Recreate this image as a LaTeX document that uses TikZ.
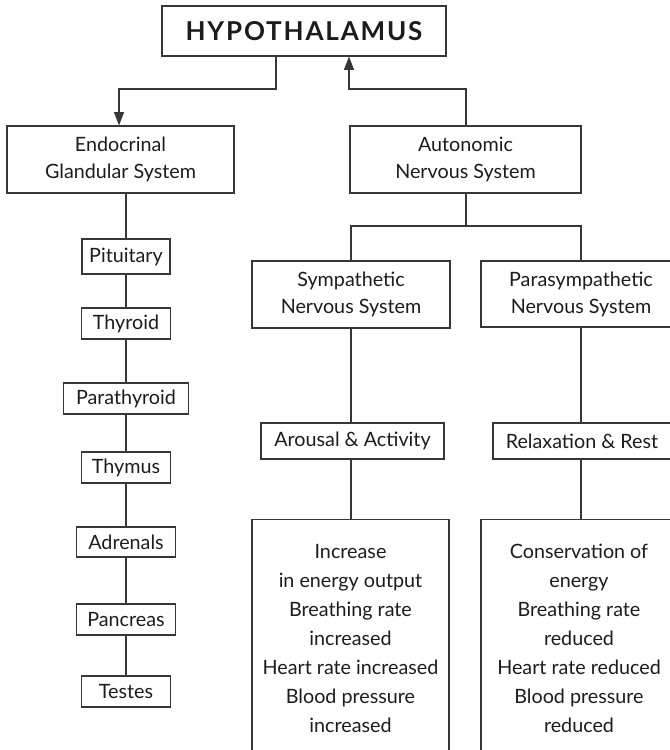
\documentclass[tikz,border=0pt]{standalone}
\usepackage{fontspec}
\setmainfont{Lato}
\usetikzlibrary{arrows.meta,calc}
\definecolor{ink}{RGB}{30,27,28}
\definecolor{ln}{RGB}{55,55,55}
\newcommand\fsz[2]{\fontsize{#1}{#2}\selectfont}
\begin{document}
\begin{tikzpicture}[x=0.75pt,y=-0.75pt,
  wh/.style 2 args={minimum width=#1*0.75pt, minimum height=#2*0.75pt},
  box/.style={draw=ln, line width=0.8pt, inner sep=0pt, text=ink, align=center, font=\fsz{14.8pt}{20.25pt}},
  txt/.style={inner sep=0pt, text=ink, align=center, font=\fsz{14.8pt}{21.75pt}},
  conn/.style={draw=ln, line width=0.8pt},
  arr/.style={conn, -{Triangle[length=10pt,width=7.5pt]}}]
\useasboundingbox (0,0) rectangle (670,750);
\clip (0,0) rectangle (670,750);
% top
\node[box, wh={284}{50}, font=\fsz{19.5pt}{22pt}\bfseries\addfontfeature{LetterSpace=7}] (hyp) at (304,31) {HYPOTHALAMUS};
\node[box, wh={227}{67}] (endo) at (120.5,159.5) {Endocrinal\\Glandular System};
\node[box, wh={231}{67}] (auto) at (465.5,159.5) {Autonomic\\Nervous System};
% glands
\node[box, wh={88}{35}] (pit) at (126,256.5) {Pituitary};
\node[box, wh={89}{31}] (thy) at (126,323.5) {Thyroid};
\node[box, wh={125}{31}] (parat) at (126,398.5) {Parathyroid};
\node[box, wh={89}{31}] (thym) at (126,467.5) {Thymus};
\node[box, wh={99}{30}] (adr) at (126,542) {Adrenals};
\node[box, wh={99}{31}] (pan) at (126,619.5) {Pancreas};
\node[box, wh={89}{31}] (tes) at (126,691.5) {Testes};
% nervous
\node[box, wh={198}{67}] (symp) at (351,294.5) {Sympathetic\\Nervous System};
\node[box, wh={200}{66}] (para) at (581,294) {Parasympathetic\\Nervous System};
\node[box, wh={183}{36}] (arous) at (352.5,441) {Arousal \& Activity};
\node[box, wh={178}{36}] (relax) at (582,441) {Relaxation \& Rest};
\node[box, wh={197}{260}, anchor=north] (incbox) at (350.5,519) {};
\node[box, wh={200}{260}, anchor=north] (conbox) at (581,519) {};
\node[txt, anchor=north] (inctxt) at (350.5,537.7) {\strut Increase\\in energy output\\Breathing rate\\increased\\Heart rate increased\\Blood pressure\\increased};
\node[txt, anchor=north] (context) at (579,537.7) {\strut Conservation of\\energy\\Breathing rate\\reduced\\Heart rate reduced\\Blood pressure\\reduced};
% junctions
\coordinate (ja) at (276,89);
\coordinate (jb) at (119,89);
\coordinate (jc) at (349,89);
\coordinate (jd) at (466,89);
\coordinate (br) at (466,226);
% connectors
\draw[arr] (hyp.south -| ja) -- (ja) -- (jb) -- (endo.north -| jb);
\draw[arr] (auto.north -| jd) -- (jd) -- (jc) -- (hyp.south -| jc);
\draw[conn] (pit |- endo.south) -- (pit.north);
\foreach \a/\b in {pit/thy, thy/parat, parat/thym, thym/adr, adr/pan, pan/tes}
  \draw[conn] (\a.south) -- (\b.north);
\draw[conn] (auto.south -| br) -- (br);
\draw[conn] (symp.north) |- (br);
\draw[conn] (para.north) |- (br);
\draw[conn] (symp.south) -- (symp.south |- arous.north);
\draw[conn] (para.south) -- (para.south |- relax.north);
\draw[conn] (symp.south |- arous.south) -- (symp.south |- incbox.north);
\draw[conn] (para.south |- relax.south) -- (para.south |- conbox.north);
\end{tikzpicture}
\end{document}
